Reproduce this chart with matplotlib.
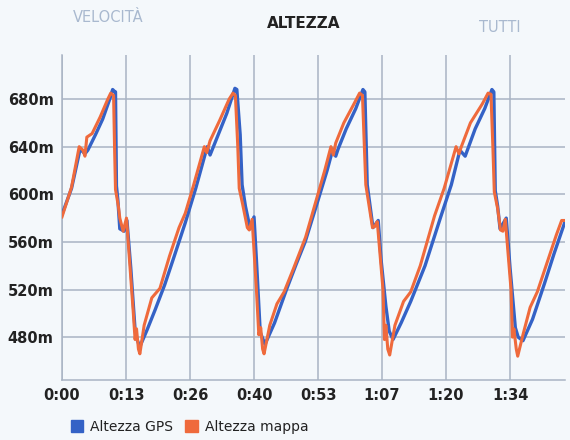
import matplotlib
matplotlib.use("Agg")
import matplotlib.pyplot as plt
from matplotlib.patches import Patch

# tempo (minuti) e altezza (m)
gps_t = [0, 2.0, 3.8, 4.8, 5.4, 7.0, 8.5, 10.0, 10.6, 11.1, 11.2, 11.4, 11.7, 12.1, 13.0, 13.6,
         14.4, 15.3, 15.7, 16.3, 17.8, 19.5, 21.5, 23.5, 25.8, 28.0, 30.4, 31.0, 32.5, 34.5,
         36.2, 36.6, 37.3, 37.7, 38.4, 39.4, 40.2, 40.7, 41.5, 42.5, 44.5, 47.0, 49.0, 50.9,
         53.6, 55.5, 56.7, 57.3, 57.8, 59.5, 61.5, 63.0, 63.4, 63.9, 64.5, 65.1, 66.2, 66.8,
         67.8, 68.5, 69.3, 71.0, 73.0, 76.0, 79.2, 81.5, 83.3, 84.4, 86.5, 88.5, 90.0, 90.4,
         90.7, 91.2, 91.7, 93.0, 93.8, 94.9, 95.5, 96.5, 98.5, 101.0, 103.0, 105.3]
gps_h = [583, 605, 638, 634, 637, 650, 663, 680, 688, 686, 686, 607, 595, 571, 569, 578,
         538, 486, 478, 472, 486, 503, 524, 548, 576, 605, 640, 633, 648, 668,
         689, 688, 650, 608, 590, 571, 581, 545, 484, 474, 492, 520, 541, 560,
         595, 620, 638, 632, 638, 655, 672, 688, 686, 608, 590, 572, 578, 545,
         506, 485, 478, 492, 510, 540, 580, 608, 637, 632, 655, 672, 688, 686,
         603, 590, 571, 580, 538, 488, 480, 477, 495, 525, 550, 577]

mappa_t = [0, 2.0, 3.6, 4.4, 4.8, 5.2, 6.3, 8.0, 9.6, 10.2, 10.8, 11.0, 11.2, 11.8, 12.1, 12.8,
           13.5, 14.9, 15.3, 15.6, 16.0, 16.3, 17.2, 18.8, 20.5, 22.5, 24.5, 25.8, 27.5, 29.8,
           30.3, 31.0, 33.0, 35.0, 35.8, 36.3, 36.8, 37.1, 37.8, 38.8, 39.2, 39.8, 40.7, 41.2,
           41.6, 42.0, 42.3, 43.5, 45.0, 46.5, 48.5, 51.0, 53.0, 55.0, 56.3, 56.8, 57.3, 59.0,
           61.0, 62.3, 62.9, 63.3, 63.6, 64.3, 65.0, 65.5, 66.0, 67.2, 67.5, 67.8, 68.2, 68.6,
           69.7, 71.5, 73.0, 75.0, 77.0, 78.0, 80.0, 82.5, 83.1, 83.6, 85.5, 88.0, 89.2, 89.8,
           90.2, 90.5, 91.2, 91.8, 92.3, 92.8, 94.0, 94.3, 94.6, 95.1, 95.4, 96.5, 98.0, 99.5,
           101.5, 103.5, 104.6, 105.3]
mappa_h = [581, 606, 640, 637, 632, 648, 651, 665, 680, 685, 683, 640, 604, 590, 580, 569,
           580, 502, 478, 487, 470, 466, 490, 513, 521, 548, 572, 584, 607, 640,
           635, 645, 662, 680, 685, 683, 640, 605, 592, 572, 570, 579, 520, 482,
           488, 470, 466, 490, 508, 518, 538, 564, 592, 620, 640, 633, 643, 660,
           675, 685, 683, 640, 608, 590, 572, 573, 577, 520, 478, 490, 470, 465,
           490, 510, 518, 540, 568, 582, 605, 640, 634, 640, 660, 676, 685, 684,
           640, 602, 588, 570, 569, 579, 520, 480, 487, 470, 464, 482, 505, 518,
           542, 566, 578, 578]

x_ticks = [0, 13.4, 26.8, 40.2, 53.6, 67.0, 80.4, 93.8]
x_labels = ["0:00", "0:13", "0:26", "0:40", "0:53", "1:07", "1:20", "1:34"]
y_ticks = [480, 520, 560, 600, 640, 680]
y_labels = ["480m", "520m", "560m", "600m", "640m", "680m"]

bg = "#f4f8fb"
grid_col = "#a9b4c4"

fig = plt.figure(figsize=(5.7, 4.4), dpi=100, facecolor=bg)
ax = fig.add_axes([62 / 570, 1 - 380 / 440, (565 - 62) / 570, (380 - 55) / 440])
ax.set_facecolor(bg)

ax.plot(gps_t, gps_h, color="#3462c6", lw=2.4, solid_joinstyle="round", zorder=3)
ax.plot(mappa_t, mappa_h, color="#ef6a3c", lw=2.2, solid_joinstyle="round", zorder=4)

ax.set_xlim(0, 105.3)
ax.set_ylim(444, 717)
ax.set_xticks(x_ticks)
ax.set_xticklabels(x_labels)
ax.set_yticks(y_ticks)
ax.set_yticklabels(y_labels)
ax.grid(True, color=grid_col, lw=1.1)
ax.set_axisbelow(True)
ax.tick_params(length=0, labelsize=10.5, labelcolor="#222222", pad=6)
for lab in ax.get_xticklabels() + ax.get_yticklabels():
    lab.set_fontweight("bold")
for s in ["top", "right"]:
    ax.spines[s].set_visible(False)
for s in ["left", "bottom"]:
    ax.spines[s].set_color(grid_col)
    ax.spines[s].set_linewidth(1.1)

# intestazione con le schede
fig.text(108 / 570, 1 - 17 / 440, "VELOCITÀ", color="#a9b9cf", fontsize=10.5,
         ha="center", va="center")
fig.text(304 / 570, 1 - 24 / 440, "ALTEZZA", color="#222222", fontsize=11,
         fontweight="bold", ha="center", va="center")
fig.text(500 / 570, 1 - 27 / 440, "TUTTI", color="#a9b9cf", fontsize=10.5,
         ha="center", va="center")

handles = [Patch(color="#3462c6", label="Altezza GPS"),
           Patch(color="#ef6a3c", label="Altezza mappa")]
leg = fig.legend(handles=handles, loc="center left", bbox_to_anchor=(58 / 570, 1 - 427 / 440),
                 ncol=2, frameon=False, handlelength=0.9, handleheight=0.9,
                 handletextpad=0.5, columnspacing=0.9, fontsize=10)
for t in leg.get_texts():
    t.set_color("#222222")

fig.savefig("out.png", dpi=100, facecolor=bg)
